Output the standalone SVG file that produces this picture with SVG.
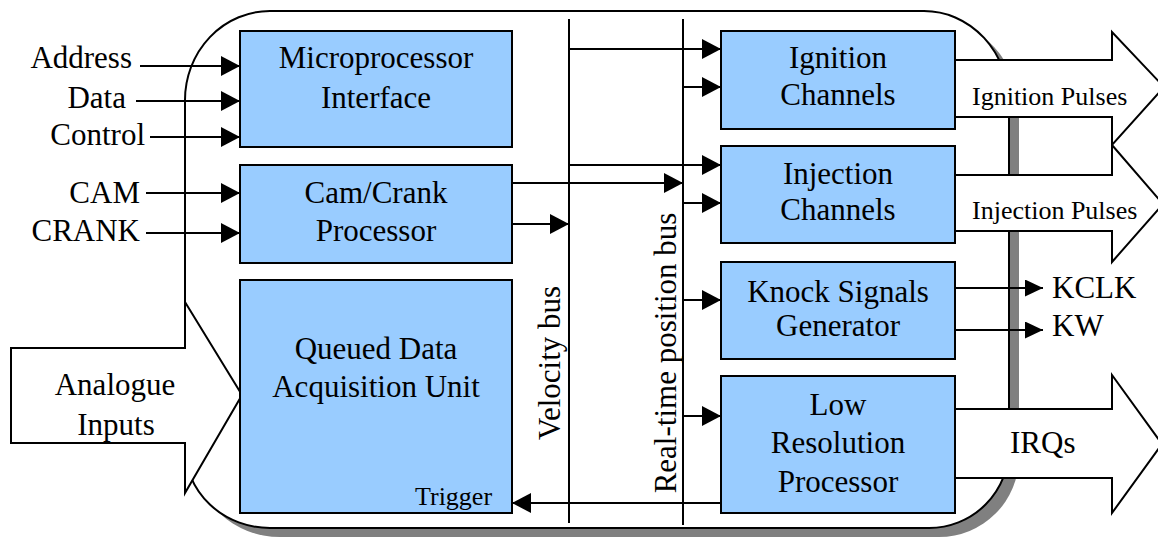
<svg xmlns="http://www.w3.org/2000/svg" width="1158" height="537" viewBox="0 0 1158 537">
  <defs>
    <marker id="head" markerUnits="userSpaceOnUse" markerWidth="20" markerHeight="21" refX="19" refY="10" orient="auto">
      <path d="M0,0 L19,10 L0,20 Z" fill="#000"/>
    </marker>
    <marker id="headSmall" markerUnits="userSpaceOnUse" markerWidth="19" markerHeight="18" refX="18" refY="8.5" orient="auto">
      <path d="M0,0 L18,8.5 L0,17 Z" fill="#000"/>
    </marker>
    <path id="outline" d="M270,11 H924 A85,92 0 0 1 1009,103 V448 A80,80 0 0 1 929,528 H270 A85,80 0 0 1 185,448 V100 A85,89 0 0 1 270,11 Z"/>
    <style>
      .box { fill: #99ccff; stroke: #000; stroke-width: 2; }
      .wire { stroke: #000; stroke-width: 2; fill: none; }
      .arrow { marker-end: url(#head); }
      .bigarrow { fill: #fff; stroke: #000; stroke-width: 2; stroke-linejoin: miter; }
      .lbl { font-size: 31px; }
      .mid { text-anchor: middle; }
      .end { text-anchor: end; }
      .small { font-size: 26px; }
    </style>
  </defs>

  <g font-family="'Liberation Serif', 'DejaVu Serif', serif" fill="#000">

  <!-- enclosure with drop shadow -->
  <g id="enclosure">
    <use href="#outline" transform="translate(10,9)" fill="#808080"/>
    <use href="#outline" fill="#fff" stroke="#000" stroke-width="2"/>
  </g>

  <!-- analogue input block arrow -->
  <g id="analogue-inputs">
    <polygon class="bigarrow" points="11,348 185,348 185,302 242,395 185,493 185,443 11,443"/>
    <text class="lbl mid" x="115" y="395">Analogue</text>
    <text class="lbl mid" x="116" y="435">Inputs</text>
  </g>

  <!-- output block arrows -->
  <g id="ignition-pulses">
    <polygon class="bigarrow" points="955,60 1112,60 1112,32 1164,87 1112,145 1112,117 955,117"/>
    <text class="small" x="972" y="105">Ignition Pulses</text>
  </g>
  <g id="injection-pulses">
    <polygon class="bigarrow" points="955,175 1112,175 1112,145 1163,204 1112,262 1112,231 955,231"/>
    <text class="small" x="972" y="219">Injection Pulses</text>
  </g>
  <g id="irqs">
    <polygon class="bigarrow" points="955,409 1112,409 1112,375 1162,444 1112,513 1112,478 955,478"/>
    <text class="lbl" x="1010" y="453">IRQs</text>
  </g>

  <!-- buses and signal connectors -->
  <g id="connectors">
    <line class="wire" x1="569" y1="19" x2="569" y2="523"/>
    <line class="wire" x1="683" y1="19" x2="683" y2="525"/>

    <line class="wire arrow" x1="140" y1="66" x2="240" y2="66"/>
    <line class="wire arrow" x1="136" y1="101" x2="240" y2="101"/>
    <line class="wire arrow" x1="150" y1="137" x2="240" y2="137"/>
    <line class="wire arrow" x1="146" y1="193" x2="240" y2="193"/>
    <line class="wire arrow" x1="146" y1="233" x2="240" y2="233"/>

    <line class="wire arrow" x1="569" y1="49" x2="721" y2="49"/>
    <line class="wire arrow" x1="683" y1="87" x2="721" y2="87"/>
    <line class="wire arrow" x1="569" y1="165" x2="721" y2="165"/>
    <line class="wire arrow" x1="512" y1="183" x2="683" y2="183"/>
    <line class="wire arrow" x1="683" y1="203" x2="721" y2="203"/>
    <line class="wire arrow" x1="512" y1="224" x2="569" y2="224"/>
    <line class="wire arrow" x1="683" y1="300" x2="721" y2="300"/>
    <line class="wire arrow" x1="683" y1="416" x2="721" y2="416"/>
    <line class="wire arrow" x1="721" y1="503" x2="512" y2="503"/>

    <line class="wire" x1="955" y1="288" x2="1043" y2="288" marker-end="url(#headSmall)"/>
    <line class="wire" x1="955" y1="330" x2="1043" y2="330" marker-end="url(#headSmall)"/>
  </g>

  <!-- external signal labels -->
  <g id="input-labels">
    <text class="lbl end" x="132" y="68">Address</text>
    <text class="lbl end" x="126" y="108">Data</text>
    <text class="lbl end" x="145" y="145">Control</text>
    <text class="lbl end" x="140" y="203">CAM</text>
    <text class="lbl end" x="140" y="241">CRANK</text>
    <text class="lbl" x="1052" y="298">KCLK</text>
    <text class="lbl" x="1052" y="336">KW</text>
  </g>

  <g id="bus-labels">
    <text class="lbl mid" transform="translate(560,363) rotate(-90)">Velocity bus</text>
    <text class="lbl mid" transform="translate(676,353) rotate(-90)">Real-time position bus</text>
  </g>

  <!-- functional blocks -->
  <g id="microprocessor-interface">
    <rect class="box" x="240" y="31" width="272" height="116"/>
    <text class="lbl mid" x="376" y="68">Microprocessor</text>
    <text class="lbl mid" x="376" y="108">Interface</text>
  </g>
  <g id="cam-crank-processor">
    <rect class="box" x="240" y="165" width="272" height="98"/>
    <text class="lbl mid" x="376" y="203">Cam/Crank</text>
    <text class="lbl mid" x="376" y="241">Processor</text>
  </g>
  <g id="qadc">
    <rect class="box" x="240" y="280" width="272" height="233"/>
    <text class="lbl mid" x="376" y="359">Queued Data</text>
    <text class="lbl mid" x="376" y="397">Acquisition Unit</text>
    <text class="small" x="415" y="505">Trigger</text>
  </g>
  <g id="ignition-channels">
    <rect class="box" x="721" y="31" width="234" height="98"/>
    <text class="lbl mid" x="838" y="68">Ignition</text>
    <text class="lbl mid" x="838" y="105">Channels</text>
  </g>
  <g id="injection-channels">
    <rect class="box" x="721" y="146" width="234" height="97"/>
    <text class="lbl mid" x="838" y="184">Injection</text>
    <text class="lbl mid" x="838" y="220">Channels</text>
  </g>
  <g id="knock-generator">
    <rect class="box" x="721" y="262" width="234" height="97"/>
    <text class="lbl mid" x="838" y="302">Knock Signals</text>
    <text class="lbl mid" x="838" y="336">Generator</text>
  </g>
  <g id="low-res-processor">
    <rect class="box" x="721" y="376" width="234" height="137"/>
    <text class="lbl mid" x="838" y="415">Low</text>
    <text class="lbl mid" x="838" y="453">Resolution</text>
    <text class="lbl mid" x="838" y="492">Processor</text>
  </g>

  </g>
</svg>
